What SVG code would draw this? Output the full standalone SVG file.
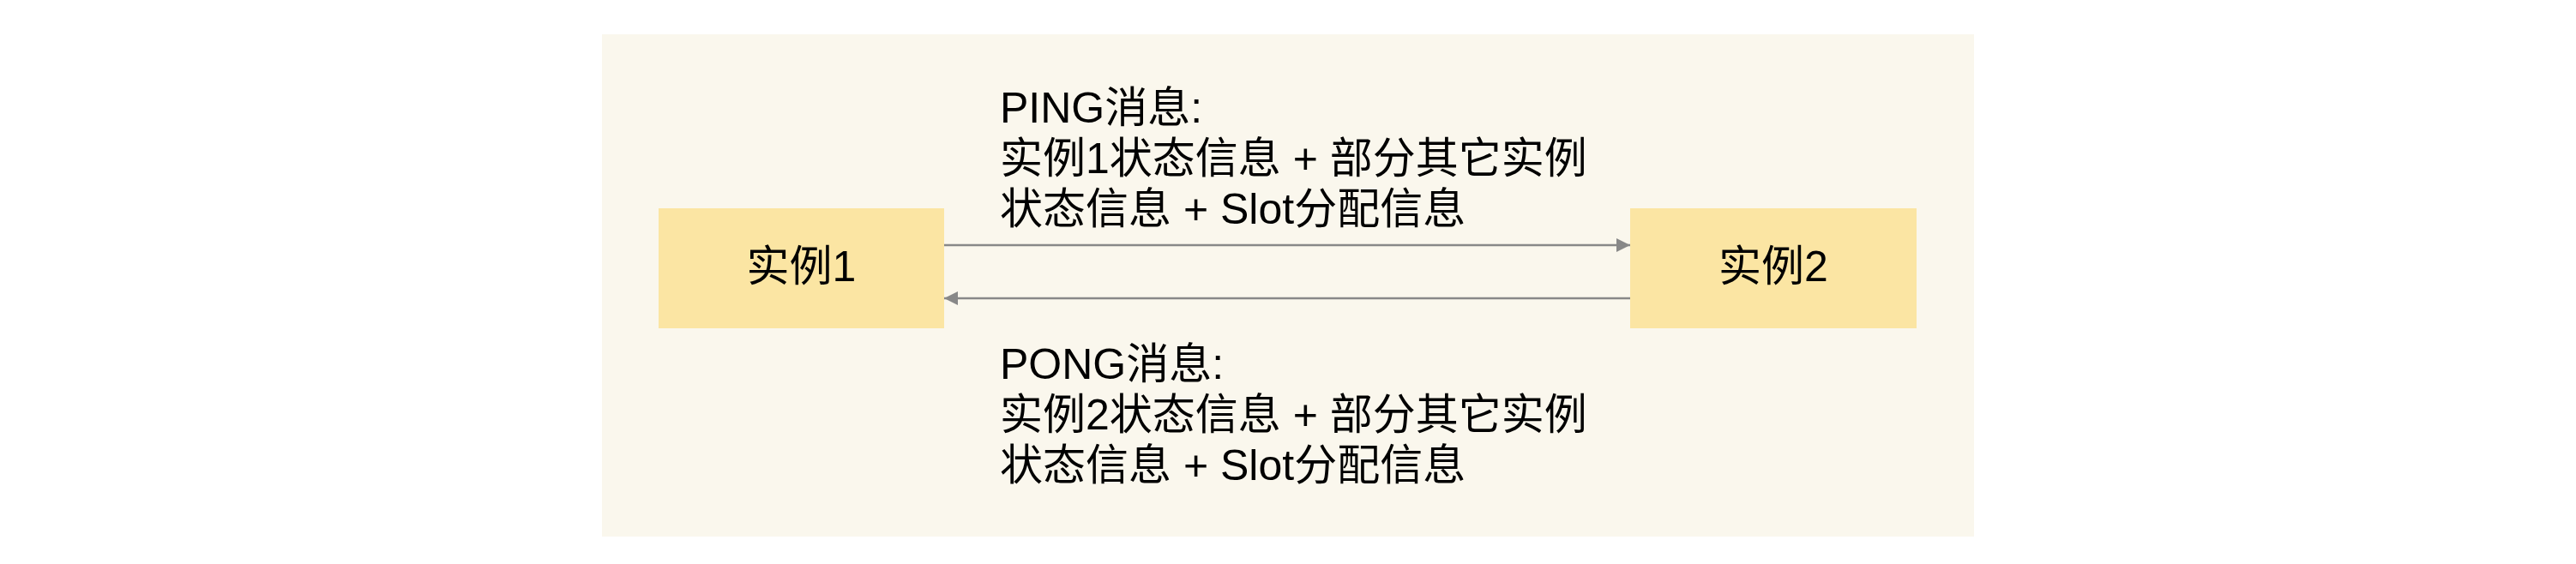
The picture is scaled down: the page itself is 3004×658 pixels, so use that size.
<svg xmlns="http://www.w3.org/2000/svg" width="3004" height="658" viewBox="0 0 3004 658">
  <defs>
    <style>
      .bg { fill: #faf7ed; }
      .node { fill: #fbe5a3; }
      .label { font-family: "Liberation Sans", "Noto Sans CJK SC", sans-serif; font-size: 50px; fill: #000; }
      .center { text-anchor: middle; }
      .edge { stroke: #888888; stroke-width: 2.5; fill: none; }
    </style>
    <marker id="arrow" markerUnits="userSpaceOnUse" markerWidth="18" markerHeight="16" refX="16" refY="8" orient="auto">
      <path d="M0,0 L16,8 L0,16 Z" fill="#888888"/>
    </marker>
  </defs>
  <rect width="3004" height="658" fill="#ffffff"/>
  <rect class="bg" x="702" y="40" width="1600" height="586"/>

  <g id="connectors">
    <line class="edge" x1="1101" y1="286" x2="1901" y2="286" marker-end="url(#arrow)"/>
    <line class="edge" x1="1901" y1="348" x2="1101" y2="348" marker-end="url(#arrow)"/>
  </g>

  <g id="node1">
    <rect class="node" x="768" y="243" width="333" height="140"/>
    <text class="label center" x="934.5" y="328">实例1</text>
  </g>

  <g id="node2">
    <rect class="node" x="1901" y="243" width="334" height="140"/>
    <text class="label center" x="2068" y="328">实例2</text>
  </g>

  <g id="ping-label">
    <text class="label" x="1166" y="143">PING消息:</text>
    <text class="label" x="1166" y="202">实例1状态信息 + 部分其它实例</text>
    <text class="label" x="1166" y="261">状态信息 + Slot分配信息</text>
  </g>

  <g id="pong-label">
    <text class="label" x="1166" y="442">PONG消息:</text>
    <text class="label" x="1166" y="501">实例2状态信息 + 部分其它实例</text>
    <text class="label" x="1166" y="560">状态信息 + Slot分配信息</text>
  </g>
</svg>
